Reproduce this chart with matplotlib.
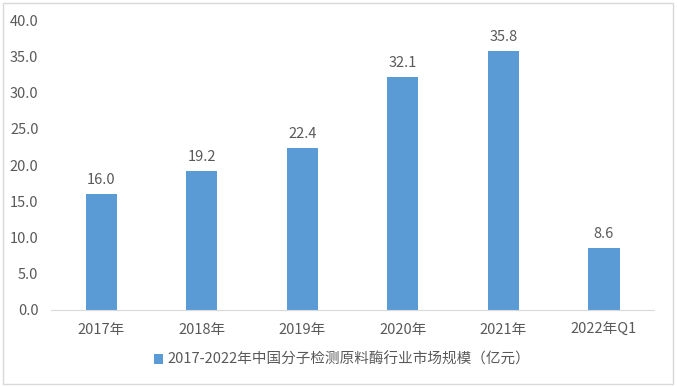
import matplotlib
matplotlib.use("Agg")
import matplotlib.pyplot as plt
from matplotlib.patches import Rectangle

plt.rcParams["font.family"] = ["Noto Sans CJK SC", "DejaVu Sans"]

categories = ["2017年", "2018年", "2019年", "2020年", "2021年", "2022年Q1"]
values = [16.0, 19.2, 22.4, 32.1, 35.8, 8.6]
series_name = "2017-2022年中国分子检测原料酶行业市场规模（亿元）"

fig = plt.figure(figsize=(6.77, 3.87), dpi=100)
ax = fig.add_axes([0.0753, 0.199, 0.891, 0.749])

x = range(len(categories))
bars = ax.bar(x, values, width=0.31, color="#5B9BD5", label=series_name)
for xi, v in zip(x, values):
    ax.annotate(f"{v:.1f}", (xi, v), xytext=(0, 5), textcoords="offset points",
                ha="center", va="bottom", fontsize=10.5, color="#595959")

ax.set_xlim(-0.5, len(categories) - 0.5)
ax.set_ylim(0, 40)
ax.set_yticks([i * 5 for i in range(9)])
ax.set_yticklabels([f"{i * 5:.1f}" for i in range(9)])
ax.set_xticks(list(x))
ax.set_xticklabels(categories, va="baseline")
ax.tick_params(axis="both", length=0, labelsize=10.5, labelcolor="#595959")
ax.tick_params(axis="y", pad=9)
ax.tick_params(axis="x", pad=17)
for s in ["top", "right", "left"]:
    ax.spines[s].set_visible(False)
ax.spines["bottom"].set_color("#D9D9D9")

leg = fig.legend(handles=[bars], loc="center", bbox_to_anchor=(0.505, 0.07),
                 frameon=False, fontsize=10.5, handlelength=0.6, handleheight=0.6,
                 handletextpad=0.3)
for t in leg.get_texts():
    t.set_color("#595959")

fig.patches.append(Rectangle((0.004, 0.008), 0.99, 0.984, transform=fig.transFigure,
                             fill=False, edgecolor="#D9D9D9", linewidth=1))

fig.savefig("out.png", dpi=100)
